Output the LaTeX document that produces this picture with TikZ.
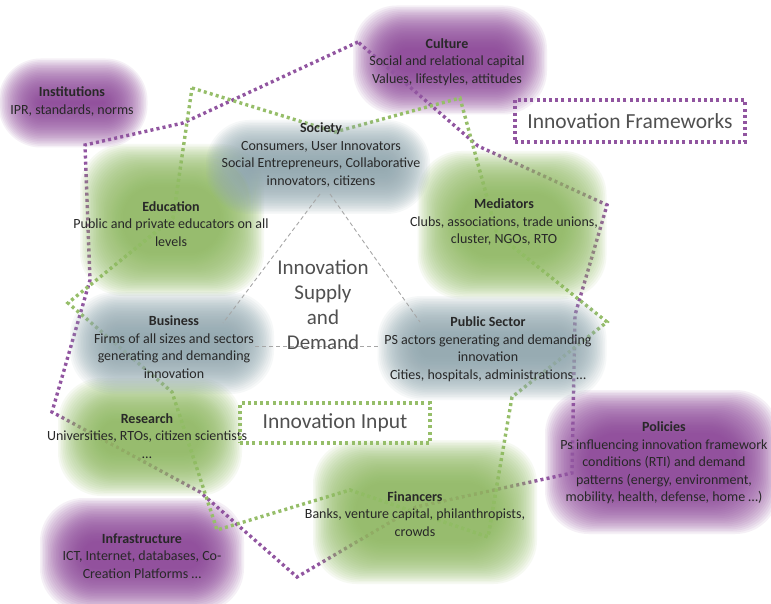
\documentclass[tikz,border=0pt]{standalone}
\usepackage{fontspec}
\setmainfont{Carlito}
\definecolor{gblob}{RGB}{145,188,100}
\definecolor{pblob}{RGB}{140,68,152}
\definecolor{bblob}{RGB}{145,168,176}
\definecolor{pdot}{RGB}{145,85,160}
\definecolor{gdot}{RGB}{150,190,105}
\definecolor{txt}{RGB}{40,40,40}
\definecolor{bigtxt}{RGB}{80,80,80}
\newcommand\softblob[5]{%
  \foreach \k in {0,...,27}{%
    \pgfmathsetmacro\bdx{#3/2+22-1.6*\k}%
    \pgfmathsetmacro\bdy{#4/2+22-1.6*\k}%
    \pgfmathsetmacro\brr{min(\bdx,\bdy,46)*0.95}%
    \fill[#5, fill opacity=0.08, rounded corners=\brr pt]
      ({#1-\bdx},{#2-\bdy}) rectangle ({#1+\bdx},{#2+\bdy});
  }%
}
\tikzset{
  lbl/.style={align=center, font=\fontsize{14}{17.5}\selectfont, text=txt, inner sep=0pt},
  bigl/.style={font=\fontsize{21.5}{25}\selectfont, text=bigtxt, inner sep=0pt, align=center},
  pdots/.style={draw=pdot, line width=3.4pt, dash pattern=on 3pt off 3.2pt},
  gdots/.style={draw=gdot, line width=3.4pt, dash pattern=on 3pt off 3.2pt},
  tri/.style={draw=black!35, line width=0.9pt, dash pattern=on 4pt off 3pt}
}
\begin{document}
\begin{tikzpicture}[x=1pt,y=-1pt]
\useasboundingbox (0,0) rectangle (771,604);
\fill[white] (0,0) rectangle (771,604);

% purple blobs (below the dotted frames)
\softblob{73}{103}{105}{45}{pblob}
\softblob{450}{60}{150}{65}{pblob}
\softblob{662}{462}{190}{100}{pblob}
\softblob{142}{555}{160}{70}{pblob}

% dotted star polygons
\draw[pdots] (358,42) -- (183,123) -- (85,145) -- (90,280) -- (52,412) -- (200,492)
  -- (297,577) -- (416,507) -- (572,473) -- (575,315) -- (607,205) -- (478,146) -- cycle;
\draw[gdots] (192,88) -- (335,132) -- (460,98) -- (497,234) -- (607,322) -- (512,397)
  -- (488,537) -- (350,490) -- (217,530) -- (172,392) -- (68,303) -- (173,218) -- cycle;

% green and blue-grey blobs
\softblob{172}{220}{140}{108}{gblob}
\softblob{512}{225}{145}{104}{gblob}
\softblob{150}{437}{140}{74}{gblob}
\softblob{425}{512}{180}{100}{gblob}
\softblob{318}{167}{180}{50}{bblob}
\softblob{172}{343}{160}{58}{bblob}
\softblob{492}{348}{185}{60}{bblob}

% dashed triangle
\coordinate (tS1) at (320,194);
\coordinate (tB1) at (223,323);
\coordinate (tS2) at (330,194);
\coordinate (tP1) at (420,322);
\coordinate (tB2) at (255,346);
\coordinate (tP2) at (380,346);
\draw[tri] (tS1) -- (tB1);
\draw[tri] (tS2) -- (tP1);
\draw[tri] (tB2) -- (tP2);

% texts
\node[lbl] (inst) at (72,101.5) {\textbf{Institutions}\\IPR, standards, norms};
\node[lbl] (cult) at (447,62) {\textbf{Culture}\\Social and relational capital\\Values, lifestyles, attitudes};
\node[lbl] (soc) at (321,155) {\textbf{Society}\\Consumers, User Innovators\\Social Entrepreneurs, Collaborative\\innovators, citizens};
\node[lbl] (edu) at (171,224) {\textbf{Education}\\Public and private educators on all\\levels};
\node[lbl] (med) at (504,222) {\textbf{Mediators}\\Clubs, associations, trade unions,\\cluster, NGOs, RTO};
\node[lbl] (bus) at (174,347) {\textbf{Business}\\Firms of all sizes and sectors\\generating and demanding\\innovation};
\node[lbl] (pub) at (488,349) {\textbf{Public Sector}\\PS actors  generating and demanding\\innovation\\Cities, hospitals, administrations \dots};
\node[lbl] (res) at (147,436) {\textbf{Research}\\Universities, RTOs, citizen scientists\\\dots};
\node[lbl] (fin) at (415,514) {\textbf{Financers}\\Banks, venture capital, philanthropists,\\crowds};
\node[lbl] (pol) at (664,463) {\textbf{Policies}\\Ps influencing innovation framework\\conditions (RTI) and demand\\patterns (energy, environment,\\mobility, health, defense, home \dots)};
\node[lbl] (infra) at (142,556) {\textbf{Infrastructure}\\ICT, Internet,  databases, Co-\\Creation Platforms \dots};

\node[bigl, font=\fontsize{21}{25}\selectfont] (isd) at (323,305) {Innovation\\Supply\\and\\Demand};
\node[bigl, pdots, minimum width=230pt, minimum height=42pt] (ifw) at (630,121) {Innovation Frameworks};
\node[bigl, gdots, minimum width=190pt, minimum height=40pt] (iin) at (335,423) {Innovation Input};
\end{tikzpicture}
\end{document}
